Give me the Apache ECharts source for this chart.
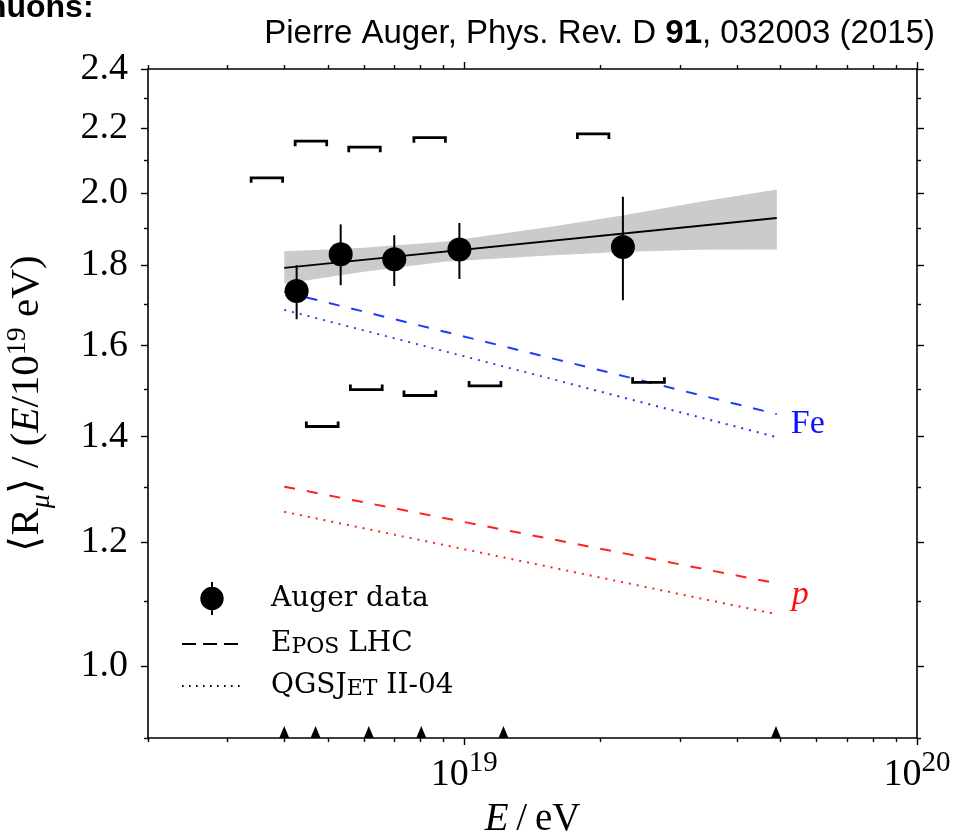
<!DOCTYPE html>
<html><head><meta charset="utf-8">
<script src="https://cdn.jsdelivr.net/npm/echarts@6/dist/echarts.min.js"></script>
<style>html,body{margin:0;padding:0;background:#fff}#c{width:957px;height:832px}</style>
</head><body><div id="c"></div>
<script>
// ---- data ----
const augerEnergy = [4.26e18, 5.33e18, 7.0e18, 9.75e18, 2.24e19];
const augerRmu = [1.733, 1.829, 1.816, 1.842, 1.849];
const augerErrLow = [1.663, 1.748, 1.746, 1.764, 1.710];
const augerErrHigh = [1.800, 1.911, 1.881, 1.915, 1.990];
const sysUpper = [2.046, 2.159, 2.140, 2.170, 2.182];
const sysLower = [1.421, 1.500, 1.487, 1.508, 1.516];
const modelEnergy = [4.0e18, 4.9e19];
const feEpos = [1.731, 1.447];
const feQgsjet = [1.686, 1.399];
const pEpos = [1.301, 1.129];
const pQgsjet = [1.254, 1.079];
const fitRmu = [1.793, 1.929];
const bandEnergy = [4e18, 6e18, 9e18, 1.5e19, 2.2e19, 3.3e19, 4.9e19];
const bandUpper = [1.837, 1.847, 1.863, 1.902, 1.935, 1.975, 2.011];
const bandLower = [1.752, 1.783, 1.809, 1.825, 1.835, 1.841, 1.842];
const binEdgeEnergy = [4.0e18, 4.69e18, 6.15e18, 8.03e18, 1.22e19, 4.88e19];
const xMajorTicks = [1e19, 1e20];
const xMinorTicks = [2e18, 3e18, 4e18, 5e18, 6e18, 7e18, 8e18, 9e18, 2e19, 3e19, 4e19, 5e19, 6e19, 7e19, 8e19, 9e19];
const yMajorTicks = [1.0, 1.2, 1.4, 1.6, 1.8, 2.0, 2.2, 2.4];
const yMinorTicks = [0.9, 1.1, 1.3, 1.5, 1.7, 1.9, 2.1, 2.3];
const xRange = [2e18, 1e20];
const yRange = [0.9, 2.4];

const lg = Math.log10;
const BLUE = '#1f3aff', RED = '#ff2020';
const serif = 'Liberation Serif';

function tickAxis(dim, pos, ticks, len, withLine, label) {
  const range = dim === 'x' ? xRange : yRange;
  return {
    type: 'value', position: pos, min: lg(range[0]), max: lg(range[1]),
    axisLine: {show: withLine, onZero: false, lineStyle: {color: '#000', width: 1.6}},
    axisTick: {show: true, inside: false, length: len, customValues: ticks.map(lg), lineStyle: {color: '#000', width: 1.4}},
    axisLabel: label ? Object.assign({customValues: ticks.map(lg)}, label) : {show: false},
    splitLine: {show: false}, minorTick: {show: false}, axisPointer: {show: false}
  };
}

const xLabel = {
  show: true, margin: 18,
  formatter: v => '{b|10}{s|' + Math.round(v) + '}',
  rich: {
    b: {fontFamily: serif, fontSize: 38, lineHeight: 38, color: '#000', verticalAlign: 'bottom'},
    s: {fontFamily: serif, fontSize: 29, lineHeight: 29, color: '#000', verticalAlign: 'bottom', padding: [0, 0, 16, 0]}
  }
};
const yLabel = {
  show: true, margin: 20, color: '#000', fontFamily: serif, fontSize: 38,
  formatter: v => Math.pow(10, v).toFixed(1)
};

const xAxes = [
  {type: 'log', logBase: 10, min: xRange[0], max: xRange[1], show: false},
  Object.assign(tickAxis('x', 'bottom', xMajorTicks, 7, true, xLabel), {
    name: '{i|E}{n|\u2009/\u2009eV}', nameLocation: 'middle', nameGap: 62,
    nameTextStyle: {rich: {
      i: {fontFamily: serif, fontStyle: 'italic', fontSize: 39, color: '#000'},
      n: {fontFamily: serif, fontSize: 39, color: '#000'}
    }}
  }),
  tickAxis('x', 'bottom', xMinorTicks, 4, false, null),
  tickAxis('x', 'top', xMajorTicks, 7, true, null),
  tickAxis('x', 'top', xMinorTicks, 4, false, null)
];
const yAxes = [
  {type: 'log', logBase: 10, min: yRange[0], max: yRange[1], show: false},
  Object.assign(tickAxis('y', 'left', yMajorTicks, 7, true, yLabel), {
    name: '{n|\u27e8R}{u|\u03bc}{n|\u27e9 / (}{i|E}{n|/10}{s|19}{n| eV)}',
    nameLocation: 'middle', nameGap: 92, nameRotate: 90,
    nameTextStyle: {rich: {
      n: {fontFamily: serif, fontSize: 41, lineHeight: 41, color: '#000', verticalAlign: 'bottom', padding: [0, 0, 8, 0]},
      i: {fontFamily: serif, fontStyle: 'italic', fontSize: 41, lineHeight: 41, color: '#000', verticalAlign: 'bottom', padding: [0, 0, 8, 0]},
      u: {fontFamily: serif, fontStyle: 'italic', fontSize: 28, lineHeight: 28, color: '#000', verticalAlign: 'bottom'},
      s: {fontFamily: serif, fontSize: 28, lineHeight: 28, color: '#000', verticalAlign: 'bottom', padding: [0, 0, 24, 0]}
    }}
  }),
  tickAxis('y', 'left', yMinorTicks, 4, false, null),
  tickAxis('y', 'right', yMajorTicks, 7, true, null),
  tickAxis('y', 'right', yMinorTicks, 4, false, null)
];

function lineSeries(name, vals, color, dash, endLabel) {
  return {
    name: name, type: 'line', xAxisIndex: 0, yAxisIndex: 0,
    data: modelEnergy.map((e, i) => [e, vals[i]]),
    symbol: 'none', silent: true, z: 3,
    lineStyle: {color: color, width: 2, type: dash, cap: 'butt'},
    endLabel: endLabel || {show: false}
  };
}
const DASH = [11, 12], DOT = [2, 6];

const option = {
  animation: false,
  backgroundColor: '#fff',
  grid: {left: 148, right: 40, top: 69, bottom: 94, containLabel: false, outerBoundsMode: 'none'},
  title: [
    {text: 'muons:', left: -22, top: -8, padding: 0,
     textStyle: {fontFamily: 'Liberation Sans', fontWeight: 'bold', fontSize: 32, color: '#000'}},
    {text: 'Pierre Auger, Phys. Rev. D {b|91}, 032003 (2015)', right: 22, top: 17, padding: 0,
     textStyle: {fontFamily: 'Liberation Sans', fontWeight: 'normal', fontSize: 33, color: '#000',
       rich: {b: {fontFamily: 'Liberation Sans', fontWeight: 'bold', fontSize: 33, color: '#000'}}}}
  ],
  xAxis: xAxes,
  yAxis: yAxes,
  legend: {
    orient: 'vertical', left: 176, top: 576, itemWidth: 60, itemHeight: 33, itemGap: 14,
    selectedMode: false,
    data: [
      {name: 'Auger data', icon: 'path://M12,0L12,34M1,17A11,11,0,1,1,23,17A11,11,0,1,1,1,17Z',
       itemStyle: {color: '#000', borderColor: '#000', borderWidth: 2, opacity: 1}},
      {name: 'EPOS LHC', itemStyle: {opacity: 0}},
      {name: 'QGSJET II-04', itemStyle: {opacity: 0}}
    ],
    formatter: function (name) {
      if (name === 'EPOS LHC') return '{f|E}{s|POS}{g| LHC}';
      if (name === 'QGSJET II-04') return '{f|QGSJ}{s|ET}{g| II-04}';
      return '{f|' + name + '}';
    },
    textStyle: {
      rich: {
        f: {fontFamily: 'DejaVu Serif', fontSize: 28, lineHeight: 28, color: '#000', verticalAlign: 'bottom', padding: [0, 0, 0, 24]},
        g: {fontFamily: 'DejaVu Serif', fontSize: 28, lineHeight: 28, color: '#000', verticalAlign: 'bottom'},
        s: {fontFamily: 'DejaVu Serif', fontSize: 22, lineHeight: 22, color: '#000', verticalAlign: 'bottom'}
      }
    }
  },
  series: [
    { // fit uncertainty band
      name: 'band', type: 'custom', xAxisIndex: 0, yAxisIndex: 0, silent: true, z: 1,
      data: bandEnergy.map((e, i) => [e, bandLower[i], bandUpper[i]]),
      encode: {x: 0, y: [1, 2]},
      renderItem: function (params, api) {
        if (params.dataIndex !== 0) return null;
        const pts = [];
        for (let j = 0; j < bandEnergy.length; j++) pts.push(api.coord([bandEnergy[j], bandUpper[j]]));
        for (let j = bandEnergy.length - 1; j >= 0; j--) pts.push(api.coord([bandEnergy[j], bandLower[j]]));
        return {type: 'polygon', shape: {points: pts}, style: {fill: '#cbcbcb', stroke: null}};
      }
    },
    lineSeries('Fe EPOS', feEpos, BLUE, DASH, {show: true, distance: 14, offset: [0, 10],
      formatter: 'Fe', fontFamily: serif, fontSize: 34, color: '#1010ff'}),
    lineSeries('Fe QGSJET', feQgsjet, BLUE, DOT, null),
    lineSeries('p EPOS', pEpos, RED, DASH, {show: true, distance: 15, offset: [0, 12],
      formatter: 'p', fontFamily: serif, fontStyle: 'italic', fontSize: 34, color: '#ff1010'}),
    lineSeries('p QGSJET', pQgsjet, RED, DOT, null),
    { // legend-only entries
      name: 'EPOS LHC', type: 'line', xAxisIndex: 0, yAxisIndex: 0, data: [], symbol: 'none',
      lineStyle: {color: '#000', width: 1.6, type: [14, 7]}
    },
    {
      name: 'QGSJET II-04', type: 'line', xAxisIndex: 0, yAxisIndex: 0, data: [], symbol: 'none',
      lineStyle: {color: '#000', width: 1.6, type: [1.6, 5.4]}
    },
    { // systematic brackets
      name: 'sys', type: 'custom', xAxisIndex: 0, yAxisIndex: 0, silent: true, z: 4,
      data: augerEnergy.map((e, i) => [e, sysUpper[i], 1]).concat(augerEnergy.map((e, i) => [e, sysLower[i], -1])),
      encode: {x: 0, y: 1},
      renderItem: function (params, api) {
        const p = api.coord([api.value(0), api.value(1)]);
        const dir = api.value(2);
        const x0 = p[0] + (dir > 0 ? -45.5 : 9.7);
        const x1 = p[0] + (dir > 0 ? -14 : 41.5);
        const leg = 5 * dir;
        return {type: 'polyline', shape: {points: [[x0, p[1] + leg], [x0, p[1]], [x1, p[1]], [x1, p[1] + leg]]},
          style: {stroke: '#000', lineWidth: 2.8, fill: null}};
      }
    },
    { // fit line
      name: 'fit', type: 'line', xAxisIndex: 0, yAxisIndex: 0, symbol: 'none', silent: true, z: 5,
      data: modelEnergy.map((e, i) => [e, fitRmu[i]]),
      lineStyle: {color: '#000', width: 2}
    },
    { // error bars
      name: 'err', type: 'custom', xAxisIndex: 0, yAxisIndex: 0, silent: true, z: 6,
      data: augerEnergy.map((e, i) => [e, augerErrLow[i], augerErrHigh[i]]),
      encode: {x: 0, y: [1, 2]},
      renderItem: function (params, api) {
        const a = api.coord([api.value(0), api.value(1)]);
        const b = api.coord([api.value(0), api.value(2)]);
        return {type: 'line', shape: {x1: a[0], y1: a[1], x2: b[0], y2: b[1]}, style: {stroke: '#000', lineWidth: 2}};
      }
    },
    {
      name: 'Auger data', type: 'scatter', xAxisIndex: 0, yAxisIndex: 0, z: 7,
      symbol: 'circle', symbolSize: 24, itemStyle: {color: '#000', opacity: 1},
      data: augerEnergy.map((e, i) => [e, augerRmu[i]])
    },
    { // energy bin markers on the axis
      name: 'bins', type: 'scatter', xAxisIndex: 0, yAxisIndex: 0, z: 8, silent: true, clip: false,
      symbol: 'triangle', symbolSize: [10, 12], symbolOffset: [0, -6], itemStyle: {color: '#000', opacity: 1},
      data: binEdgeEnergy.map(e => [e, yRange[0]])
    }
  ]
};

const chart = echarts.init(document.getElementById('c'), null, {renderer: 'canvas'});
chart.setOption(option);
</script>
</body></html>
